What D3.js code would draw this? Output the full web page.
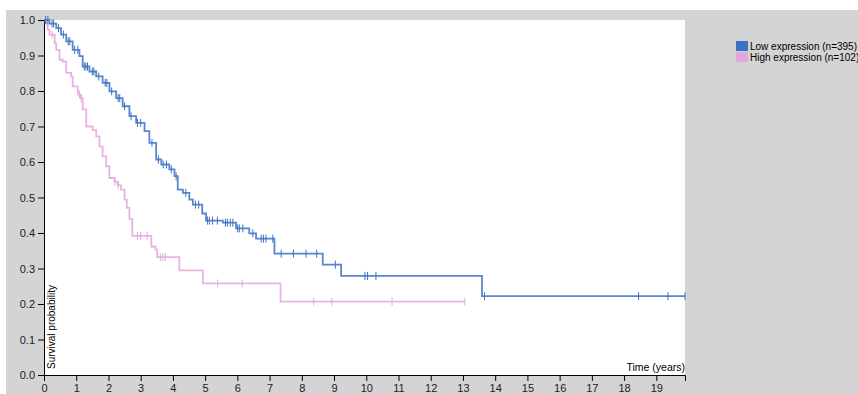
<!DOCTYPE html>
<html>
<head>
<meta charset="utf-8">
<script src="https://cdn.jsdelivr.net/npm/d3@7"></script>
<style>
  body { margin: 0; background: #fff; font-family: "Liberation Sans", Arial, sans-serif; }
  #chart { position: absolute; left: 6px; top: 10px; }
  .axis text { font-size: 11px; fill: #222; }
</style>
</head>
<body>
<div id="chart"></div>
<script>
// low expression group (n=395): step points [time in years, survival]
var lowTimes = [0, 0.17, 0.38, 0.53, 0.69, 0.89, 1.10, 1.20, 1.41, 1.62, 1.82, 2.03, 2.24, 2.44, 2.65, 2.86, 3.12, 3.27, 3.48, 3.64, 3.89, 4.05, 4.15, 4.31, 4.51, 4.62, 4.91, 5.03, 5.55, 5.96, 6.37, 6.58, 7.15, 8.65, 9.22, 13.59];
var lowSurv  = [1.0, 0.99, 0.977, 0.959, 0.94, 0.916, 0.898, 0.869, 0.855, 0.841, 0.823, 0.799, 0.78, 0.757, 0.729, 0.71, 0.687, 0.654, 0.607, 0.593, 0.579, 0.56, 0.522, 0.513, 0.494, 0.48, 0.455, 0.435, 0.429, 0.413, 0.399, 0.384, 0.342, 0.311, 0.279, 0.222];
var lowCensor = [0.05, 0.12, 0.25, 0.3, 0.45, 0.6, 0.75, 0.8, 0.95, 1.05, 1.25, 1.3, 1.35, 1.5, 1.55, 1.7, 1.9, 1.95, 2.1, 2.3, 2.35, 2.5, 2.7, 2.9, 3.0, 3.35, 3.55, 3.7, 3.8, 3.95, 4.1, 4.4, 4.7, 4.8,
  5.07, 5.13, 5.23, 5.38, 5.63, 5.69, 5.78, 5.86, 6.01, 6.06, 6.17, 6.48, 6.74, 6.81, 6.89, 7.10, 7.36, 7.74, 8.13, 8.46, 9.04, 9.96, 10.04, 10.30, 13.67, 18.45, 19.36, 19.89];

// high expression group (n=102)
var highTimes = [0, 0.05, 0.12, 0.17, 0.33, 0.38, 0.48, 0.58, 0.69, 0.84, 0.89, 1.05, 1.15, 1.20, 1.31, 1.51, 1.62, 1.72, 1.82, 1.93, 2.03, 2.19, 2.29, 2.39, 2.50, 2.57, 2.65, 2.74, 3.33, 3.46, 3.51, 4.20, 4.93, 7.34];
var highSurv  = [1.0, 0.99, 0.973, 0.959, 0.935, 0.916, 0.888, 0.883, 0.851, 0.841, 0.813, 0.79, 0.78, 0.748, 0.70, 0.69, 0.672, 0.644, 0.616, 0.588, 0.555, 0.545, 0.535, 0.522, 0.494, 0.471, 0.44, 0.392, 0.362, 0.353, 0.332, 0.295, 0.258, 0.2065];
var highCensor = [0.1, 0.25, 1.1, 1.15, 2.2, 2.3, 2.9, 3.0, 3.2, 3.61, 3.69, 3.76, 5.39, 6.15, 8.37, 8.93, 10.8, 13.06];

var groups = ["Low expression (n=395)", "High expression (n=102)"];
var colors = ["#3b72c4", "#e4a6de"];
var yTicks = [0, 0.1, 0.2, 0.3, 0.4, 0.5, 0.6, 0.7, 0.8, 0.9, 1.0];
var xTicks = d3.range(0, 20);

var totalW = 852, totalH = 390,
    margin = {top: 10, left: 38},
    width = 641, height = 355;

var svg = d3.select("#chart").append("svg")
    .attr("width", totalW)
    .attr("height", totalH);

svg.append("rect")
    .attr("width", totalW).attr("height", totalH)
    .attr("fill", "#d4d4d4");

var g = svg.append("g").attr("transform", "translate(" + margin.left + "," + margin.top + ")");

var tMax = d3.max([d3.max(lowCensor), d3.max(highCensor), d3.max(lowTimes), d3.max(highTimes)]);

var x = d3.scaleLinear().domain([0, tMax]).range([0, width]);
var y = d3.scaleLinear().domain([0, 1]).range([height, 0]);

g.append("rect")
    .attr("width", width).attr("height", height)
    .attr("fill", "#fff");

g.append("g")
    .attr("class", "axis")
    .attr("transform", "translate(0," + height + ")")
    .call(d3.axisBottom(x).tickValues(xTicks).tickFormat(d3.format("d")));

g.append("g")
    .attr("class", "axis")
    .call(d3.axisLeft(y).tickValues(yTicks).tickFormat(d3.format(".1f")));

g.append("text")
    .attr("transform", "translate(11," + (height - 6) + ") rotate(-90)")
    .style("font-size", "10px")
    .text("Survival probability");

g.append("text")
    .attr("x", width)
    .attr("y", height - 4)
    .attr("text-anchor", "end")
    .style("font-size", "10.5px")
    .text("Time (years)");

var series = [
    {times: lowTimes, surv: lowSurv, censor: lowCensor, end: d3.max(lowCensor), color: colors[0]},
    {times: highTimes, surv: highSurv, censor: highCensor, end: d3.max(highCensor), color: colors[1]}
];

function survAt(s, t) {
    var i = d3.bisectRight(s.times, t) - 1;
    return s.surv[Math.max(i, 0)];
}

var line = d3.line().curve(d3.curveStepAfter);

// draw high first so low sits on top
series.slice().reverse().forEach(function(s) {
    var pts = s.times.map(function(t, i) { return [x(t), y(s.surv[i])]; });
    pts.push([x(s.end), y(s.surv[s.surv.length - 1])]);

    g.append("path")
        .attr("d", line(pts))
        .attr("fill", "none")
        .attr("stroke", s.color)
        .attr("stroke-width", 1.8)
        .attr("stroke-opacity", 0.85);

    g.selectAll(null)
        .data(s.censor)
        .enter().append("line")
        .attr("x1", function(d) { return x(d); })
        .attr("x2", function(d) { return x(d); })
        .attr("y1", function(d) { return y(survAt(s, d)) - 4; })
        .attr("y2", function(d) { return y(survAt(s, d)) + 4; })
        .attr("stroke", s.color)
        .attr("stroke-width", 1);
});

var legend = svg.append("g").attr("transform", "translate(730,31)");

legend.selectAll("rect")
    .data(groups)
    .enter().append("rect")
    .attr("x", 0)
    .attr("y", function(d, i) { return i * 11; })
    .attr("width", 12)
    .attr("height", 10)
    .attr("fill", function(d, i) { return colors[i]; });

legend.selectAll("text")
    .data(groups)
    .enter().append("text")
    .attr("x", 14)
    .attr("y", function(d, i) { return i * 11 + 9; })
    .style("font-size", "10px")
    .text(function(d) { return d; });
</script>
</body>
</html>
